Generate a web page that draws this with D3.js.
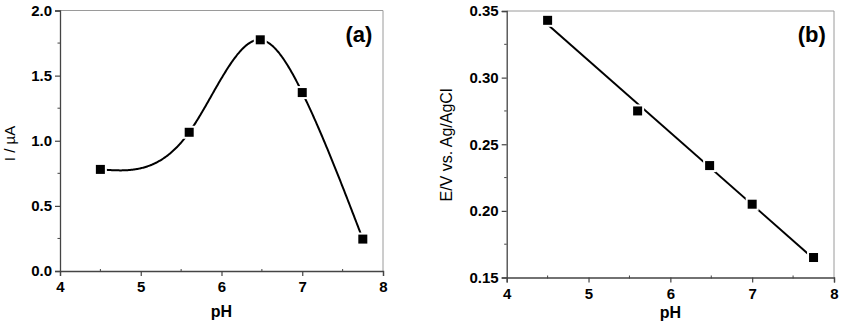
<!DOCTYPE html>
<html>
<head>
<meta charset="utf-8">
<script src="https://cdn.jsdelivr.net/npm/d3@7"></script>
<style>
  body { margin: 0; background: #fff; }
  svg { display: block; font-family: "Liberation Sans", Arial, sans-serif; }
</style>
</head>
<body>
<div id="viz"></div>
<script>
// data
const pH = [4.5, 5.6, 6.48, 7.0, 7.75];
const current = [0.78, 1.065, 1.775, 1.37, 0.245];      // I / µA, panel (a)
const potential = [0.343, 0.275, 0.234, 0.205, 0.165]; // E/V vs Ag/AgCl, panel (b)

const xTicks = [4, 5, 6, 7, 8];
const yTicksA = [0.0, 0.5, 1.0, 1.5, 2.0];
const yTicksB = [0.15, 0.20, 0.25, 0.30, 0.35];

const svg = d3.select("#viz").append("svg")
  .attr("width", 846)
  .attr("height", 324);

// least squares line for panel b
function linFit(xs, ys) {
  const mx = d3.mean(xs), my = d3.mean(ys);
  let sxy = 0, sxx = 0;
  xs.forEach((x, i) => { sxy += (x - mx) * (ys[i] - my); sxx += (x - mx) * (x - mx); });
  const k = sxy / sxx;
  return x => my + k * (x - mx);
}

// natural cubic spline y(x) through the points, like Origin's spline connect
function naturalSpline(xs, ys) {
  const n = xs.length;
  const h = d3.range(n - 1).map(i => xs[i + 1] - xs[i]);
  const a = new Array(n).fill(0), b = new Array(n).fill(1), c = new Array(n).fill(0), r = new Array(n).fill(0);
  for (let i = 1; i < n - 1; i++) {
    a[i] = h[i - 1];
    b[i] = 2 * (h[i - 1] + h[i]);
    c[i] = h[i];
    r[i] = 6 * ((ys[i + 1] - ys[i]) / h[i] - (ys[i] - ys[i - 1]) / h[i - 1]);
  }
  // thomas algorithm
  for (let i = 1; i < n; i++) {
    const m = a[i] / b[i - 1];
    b[i] -= m * c[i - 1];
    r[i] -= m * r[i - 1];
  }
  const M = new Array(n).fill(0);
  M[n - 1] = r[n - 1] / b[n - 1];
  for (let i = n - 2; i >= 0; i--) M[i] = (r[i] - c[i] * M[i + 1]) / b[i];
  return x => {
    let i = Math.min(n - 2, Math.max(0, d3.bisectRight(xs, x) - 1));
    const t1 = xs[i + 1] - x, t0 = x - xs[i], hi = h[i];
    return M[i] * t1 * t1 * t1 / (6 * hi) + M[i + 1] * t0 * t0 * t0 / (6 * hi)
      + (ys[i] / hi - M[i] * hi / 6) * t1 + (ys[i + 1] / hi - M[i + 1] * hi / 6) * t0;
  };
}

function panel(opt) {
  const g = svg.append("g").attr("transform", `translate(${opt.left},${opt.top})`);
  const w = opt.width, h = opt.height;

  const x = d3.scaleLinear().domain([4, 8]).range([0, w]);
  const y = d3.scaleLinear().domain(opt.yDomain).range([h, 0]);

  // frame top / right
  g.append("path")
    .attr("d", `M0,0H${w}V${h}`)
    .attr("fill", "none")
    .attr("stroke", "#9a9a9a")
    .attr("stroke-width", 1);

  // minor ticks
  const xMinor = d3.range(4.5, 8, 1);
  g.selectAll(".xm").data(xMinor).join("line")
    .attr("x1", d => x(d)).attr("x2", d => x(d))
    .attr("y1", h - 2).attr("y2", h + 1)
    .attr("stroke", "#444").attr("stroke-width", 1);
  const step = opt.yTicks[1] - opt.yTicks[0];
  const yMinor = opt.yTicks.slice(0, -1).map(v => v + step / 2);
  g.selectAll(".ym").data(yMinor).join("line")
    .attr("x1", -2.5).attr("x2", 0)
    .attr("y1", d => y(d)).attr("y2", d => y(d))
    .attr("stroke", "#444").attr("stroke-width", 1);

  const xAxis = g.append("g").attr("transform", `translate(0,${h})`)
    .call(d3.axisBottom(x).tickValues(xTicks).tickFormat(d3.format("d")).tickSize(5).tickPadding(4));
  const yAxis = g.append("g")
    .call(d3.axisLeft(y).tickValues(opt.yTicks).tickFormat(d3.format(opt.fmt)).tickSize(5).tickPadding(3));

  [xAxis, yAxis].forEach(a => {
    a.select(".domain").attr("stroke", "#444").attr("stroke-width", 1.3);
    a.selectAll(".tick line").attr("stroke", "#444").attr("stroke-width", 1.2);
    a.selectAll(".tick text")
      .attr("fill", "#000")
      .style("font-size", "15px")
      .style("font-weight", "bold")
      .style("font-family", "'Liberation Sans', Arial, sans-serif");
  });
  xAxis.selectAll(".tick text").attr("dy", "0.8em");

  // curve / fit line
  g.append("path")
    .attr("d", opt.linePath(x, y))
    .attr("fill", "none")
    .attr("stroke", "#000")
    .attr("stroke-width", 2);

  // markers with white halo (gap in line)
  const pts = pH.map((p, i) => ({ x: p, y: opt.values[i] }));
  g.selectAll(".halo").data(pts).join("rect")
    .attr("x", d => x(d.x) - 6.5).attr("y", d => y(d.y) - 6.5)
    .attr("width", 13).attr("height", 13)
    .attr("fill", "#fff");
  g.selectAll(".pt").data(pts).join("rect")
    .attr("x", d => x(d.x) - 4.5).attr("y", d => y(d.y) - 4.5)
    .attr("width", 9).attr("height", 9)
    .attr("fill", "#000");

  // labels
  g.append("text")
    .attr("x", w / 2).attr("y", opt.xLabelY)
    .attr("text-anchor", "middle")
    .style("font-size", "16px").style("font-weight", "bold")
    .text("pH");

  g.append("text")
    .attr("transform", `translate(${opt.yLabelX},${opt.yLabelCy}) rotate(-90)`)
    .attr("text-anchor", "middle")
    .attr("dy", "0.35em")
    .style("font-size", opt.yLabelSize)
    .text(opt.yLabel);

  g.append("text")
    .attr("x", opt.tagX).attr("y", 31)
    .attr("text-anchor", "middle")
    .style("font-size", "22px").style("font-weight", "bold")
    .text(opt.tag);
}

const splineA = naturalSpline(pH, current);
panel({
  left: 60, top: 10.5, width: 323, height: 260.5,
  yDomain: [0, 2], yTicks: yTicksA, fmt: ".1f",
  values: current,
  linePath: (x, y) => d3.line()
    .x(d => x(d))
    .y(d => y(splineA(d)))(d3.range(pH[0], pH[pH.length - 1] + 0.001, 0.01)),
  yLabel: "I / \u00b5A", yLabelSize: "15px", yLabelX: -50, yLabelCy: 133,
  xLabelY: 306,
  tag: "(a)", tagX: 299
});

const fit = linFit(pH, potential);
panel({
  left: 506.7, top: 11, width: 327.3, height: 266.5,
  yDomain: [0.15, 0.35], yTicks: yTicksB, fmt: ".2f",
  values: potential,
  linePath: (x, y) => d3.line()
    .x(d => x(d))
    .y(d => y(fit(d)))([pH[0], pH[pH.length - 1]]),
  yLabel: "E/V vs. Ag/AgCl", yLabelSize: "16px", yLabelX: -60, yLabelCy: 134,
  xLabelY: 307,
  tag: "(b)", tagX: 305
});
</script>
</body>
</html>
